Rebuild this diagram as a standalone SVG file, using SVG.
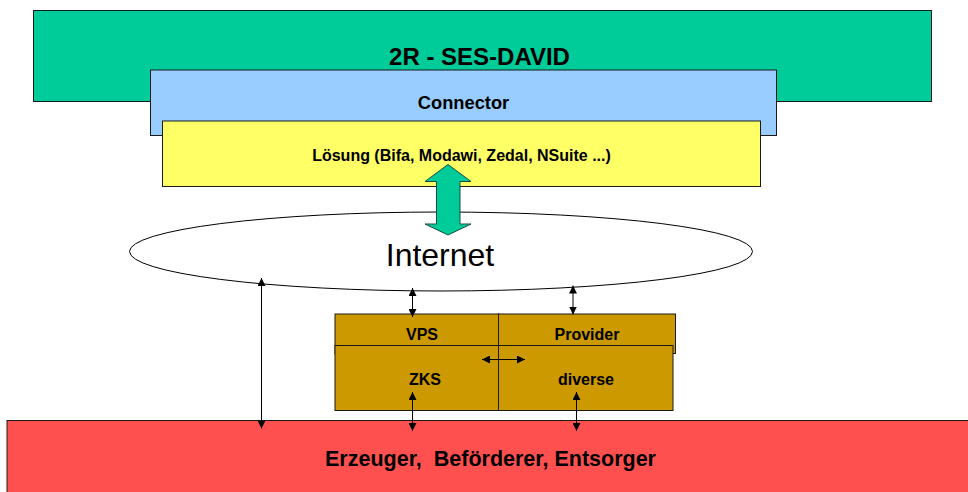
<svg xmlns="http://www.w3.org/2000/svg" width="968" height="492" viewBox="0 0 968 492">
<style>
text{font-family:"Liberation Sans",Arial,sans-serif;font-weight:bold;fill:#000;text-anchor:middle;white-space:pre}
.b{stroke:#1a1a1a;stroke-width:1}
.c{stroke:#000;stroke-width:1;fill:none;marker-start:url(#a);marker-end:url(#a)}
.g{fill:#cc9900}
</style>
<defs><marker id="a" viewBox="0 0 8 8" refX="8" refY="4" markerWidth="8" markerHeight="8" markerUnits="userSpaceOnUse" orient="auto-start-reverse"><path d="M0 0L8 4L0 8Z" fill="#000"/></marker></defs>
<rect width="968" height="492" fill="#fff"/>
<g id="ses-david"><rect class="b" x="33.500" y="10.500" width="898" height="91" fill="#00cc99"/><text x="479.500" y="65" font-size="24">2R - SES-DAVID</text></g>
<g id="connector"><rect class="b" x="150.500" y="70" width="626" height="65.500" fill="#99ccff"/><text x="463.500" y="109" font-size="18.300">Connector</text></g>
<g id="loesung"><rect class="b" x="162.500" y="121" width="598" height="65.500" fill="#ffff66"/><text x="461.500" y="160.500" font-size="16">Lösung (Bifa, Modawi, Zedal, NSuite ...)</text></g>
<g id="internet"><ellipse cx="441" cy="251.500" rx="311.500" ry="39.500" fill="#fff" stroke="#000" stroke-width="1"/><text x="440" y="265.500" font-size="32" style="font-weight:normal">Internet</text></g>
<g id="vps"><rect class="b g" x="335" y="314" width="164" height="40"/><text x="422" y="340" font-size="16">VPS</text></g>
<g id="provider"><rect class="b g" x="498.500" y="314" width="177" height="39.500"/><text x="587" y="340" font-size="16">Provider</text></g>
<g id="zks"><rect class="b g" x="335" y="345.500" width="164" height="65"/><text x="425" y="384.500" font-size="16">ZKS</text></g>
<g id="diverse"><rect class="b g" x="498.500" y="345.500" width="174.500" height="65"/><text x="586" y="384.500" font-size="16">diverse</text></g>
<g id="erzeuger"><rect class="b" x="7" y="420.500" width="975" height="80" fill="#ff5050"/><text x="490.500" y="466" font-size="21.500">Erzeuger,  Beförderer, Entsorger</text></g>
<g id="connectors">
<path d="M448 164.500L471 181.500H460V224H471L448 235L425 224H436.500V181.500H425L448 164.500Z" fill="#00cc99" stroke="#1a4a40" stroke-width="1"/>
<line class="c" x1="261.500" y1="278" x2="261.500" y2="428.500"/>
<line class="c" x1="412.500" y1="288" x2="412.500" y2="317"/>
<line class="c" x1="573" y1="285.500" x2="573" y2="314.500"/>
<line class="c" x1="482" y1="359.500" x2="525" y2="359.500"/>
<line class="c" x1="412.500" y1="392" x2="412.500" y2="431"/>
<line class="c" x1="576.500" y1="392" x2="576.500" y2="431"/>
</g>
</svg>
